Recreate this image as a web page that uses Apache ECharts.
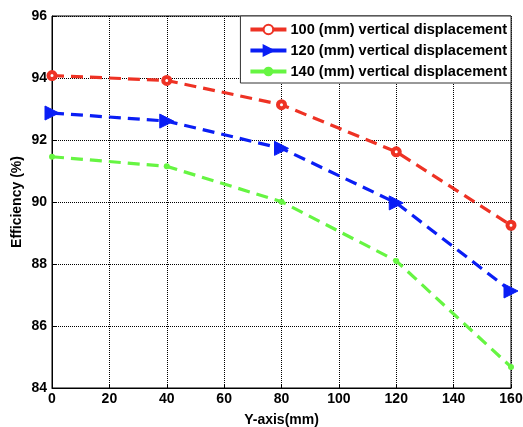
<!DOCTYPE html>
<html>
<head>
<meta charset="utf-8">
<script src="https://cdn.jsdelivr.net/npm/echarts@6/dist/echarts.min.js"></script>
<style>
  html, body { margin: 0; padding: 0; background: #fff; }
  #chart { width: 523px; height: 427px; }
</style>
</head>
<body>
<div id="chart"></div>
<script>
// data
const xValues = [0, 40, 80, 120, 160]
const eff100 = [94.08, 93.92, 93.14, 91.62, 89.25]
const eff120 = [92.87, 92.61, 91.73, 89.97, 87.13]
const eff140 = [91.46, 91.15, 90.01, 88.1, 84.68]
const seriesNames = [
  '100 (mm) vertical displacement',
  '120 (mm) vertical displacement',
  '140 (mm) vertical displacement',
]

const pairs = (ys) => xValues.map((x, i) => [x, ys[i]])

const chart = echarts.init(document.getElementById('chart'))

const boldText = {
  color: '#000',
  fontFamily: 'Liberation Sans, Arial, sans-serif',
  fontWeight: 'bold',
  fontSize: 14,
}

const dashed = (color) => ({
  width: 3.2,
  color: color,
  type: [12, 7],
})

chart.setOption({
  animation: false,
  grid: {
    left: 52,
    right: 12,
    top: 16,
    bottom: 39,
    show: true,
    borderColor: '#000',
    borderWidth: 1,
    outerBoundsMode: 'none',
    containLabel: false,
  },
  legend: {
    orient: 'vertical',
    right: 12,
    top: 16,
    backgroundColor: '#fff',
    borderColor: '#333',
    borderWidth: 1,
    padding: [5, 4, 3, 8],
    itemGap: 4,
    itemWidth: 36,
    itemHeight: 12,
    lineStyle: { width: 4, type: 'solid' },
    textStyle: Object.assign({}, boldText, { fontSize: 14.6, lineHeight: 17, padding: [0, 0, 0, -1] }),
    data: seriesNames,
  },
  xAxis: {
    type: 'value',
    min: 0,
    max: 160,
    interval: 20,
    name: 'Y-axis(mm)',
    nameLocation: 'middle',
    nameGap: 25,
    nameTextStyle: boldText,
    axisLine: { show: true, lineStyle: { color: '#000' } },
    axisTick: { show: true, inside: true, length: 4, lineStyle: { color: '#000' } },
    axisLabel: Object.assign({ margin: 4 }, boldText),
    splitLine: { show: true, lineStyle: { color: '#000', type: 'dotted', width: 1 } },
  },
  yAxis: {
    type: 'value',
    min: 84,
    max: 96,
    interval: 2,
    name: 'Efficiency (%)',
    nameLocation: 'middle',
    nameGap: 28,
    nameMoveOverlap: false,
    nameTextStyle: boldText,
    axisLine: { show: true, lineStyle: { color: '#000' } },
    axisTick: { show: true, inside: true, length: 4, lineStyle: { color: '#000' } },
    axisLabel: Object.assign({ margin: 5 }, boldText),
    splitLine: { show: true, lineStyle: { color: '#000', type: 'dotted', width: 1 } },
  },
  series: [
    {
      name: seriesNames[0],
      type: 'line',
      data: pairs(eff100),
      symbol: 'circle',
      symbolSize: 7,
      itemStyle: { color: '#fff', borderColor: '#ee3224', borderWidth: 4 },
      lineStyle: dashed('#ee3224'),
      z: 4,
    },
    {
      name: seriesNames[1],
      type: 'line',
      data: pairs(eff120),
      symbol: 'triangle',
      symbolRotate: -90,
      symbolSize: 14,
      itemStyle: { color: '#0a1ef5', borderColor: '#0a1ef5', borderWidth: 1 },
      lineStyle: dashed('#0a1ef5'),
      z: 3,
    },
    {
      name: seriesNames[2],
      type: 'line',
      data: pairs(eff140),
      symbol: 'circle',
      symbolSize: 6,
      itemStyle: { color: '#66f542' },
      lineStyle: dashed('#66f542'),
      z: 2,
    },
  ],
})
</script>
</body>
</html>
